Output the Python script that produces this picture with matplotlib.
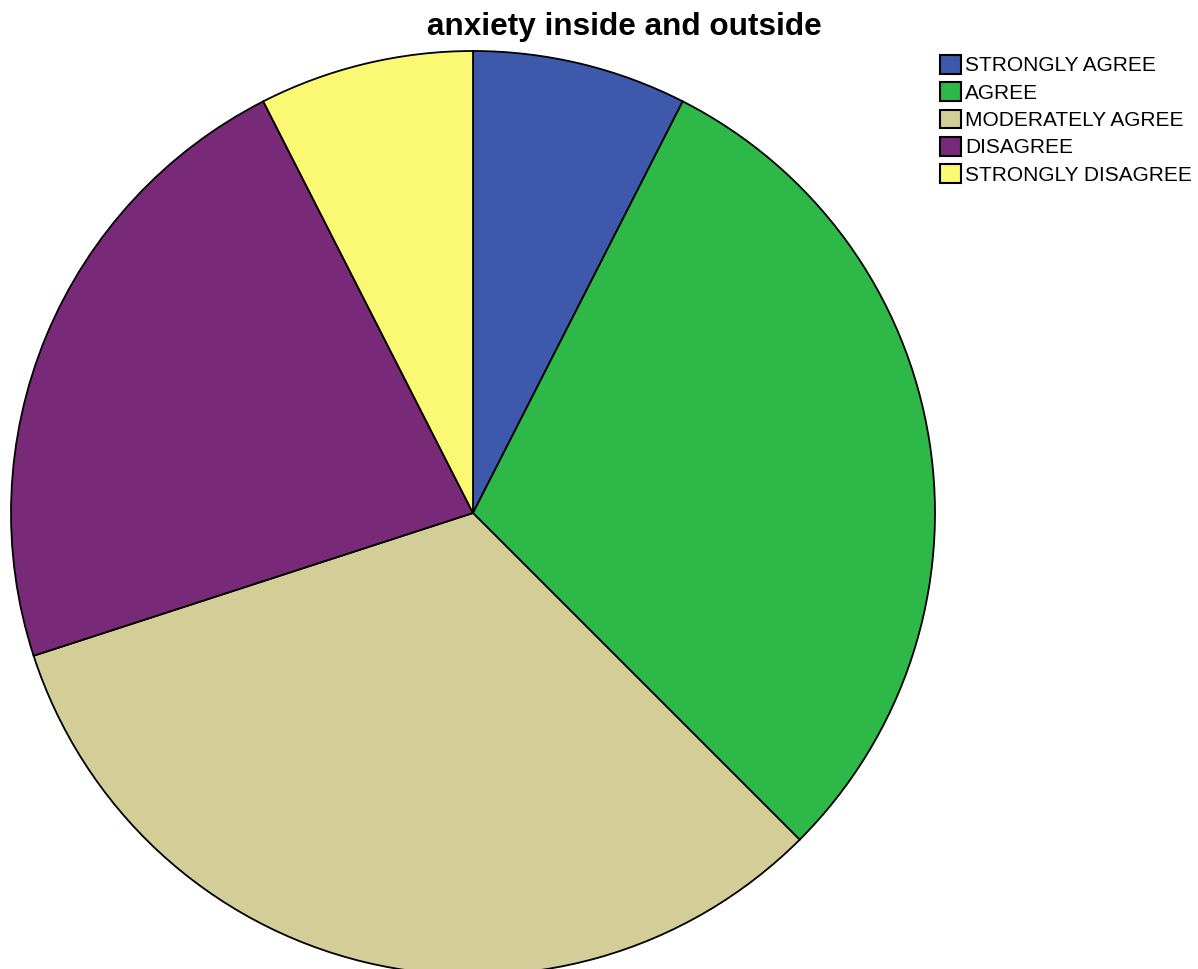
import matplotlib
matplotlib.use("Agg")
import matplotlib.pyplot as plt
from matplotlib.patches import Patch

categories = ["STRONGLY AGREE", "AGREE", "MODERATELY AGREE", "DISAGREE", "STRONGLY DISAGREE"]
counts = [3, 12, 13, 9, 3]
colors = ["#3E58AC", "#2EB848", "#D3CE97", "#782A78", "#FBF873"]
title = "anxiety inside and outside"

plt.rcParams["font.family"] = ["Liberation Sans", "DejaVu Sans"]

W, H = 1198, 969
fig = plt.figure(figsize=(W / 100, H / 100), dpi=100)
ax = fig.add_axes([0, 0, 1, 1])

ax.pie(counts, colors=colors, startangle=90, counterclock=False,
       center=(473, H - 513), radius=462,
       wedgeprops=dict(edgecolor="black", linewidth=1.3))
ax.set_xlim(0, W)
ax.set_ylim(0, H)
ax.set_aspect("equal")
ax.axis("off")

fig.text(624 / W, 1 - 35 / H, title, ha="center", va="baseline",
         fontsize=22.7, fontweight="bold")

handles = [Patch(facecolor=c, edgecolor="black", linewidth=1.5) for c in colors]
ax.legend(handles, categories, loc="upper left",
          bbox_to_anchor=(940 / W, 1 - 55 / H), bbox_transform=fig.transFigure,
          frameon=False, fontsize=15, handlelength=1.0, handleheight=1.0,
          handletextpad=0.2, labelspacing=0.33, borderpad=0, borderaxespad=0)

fig.savefig("out.png", dpi=100, facecolor="white")
